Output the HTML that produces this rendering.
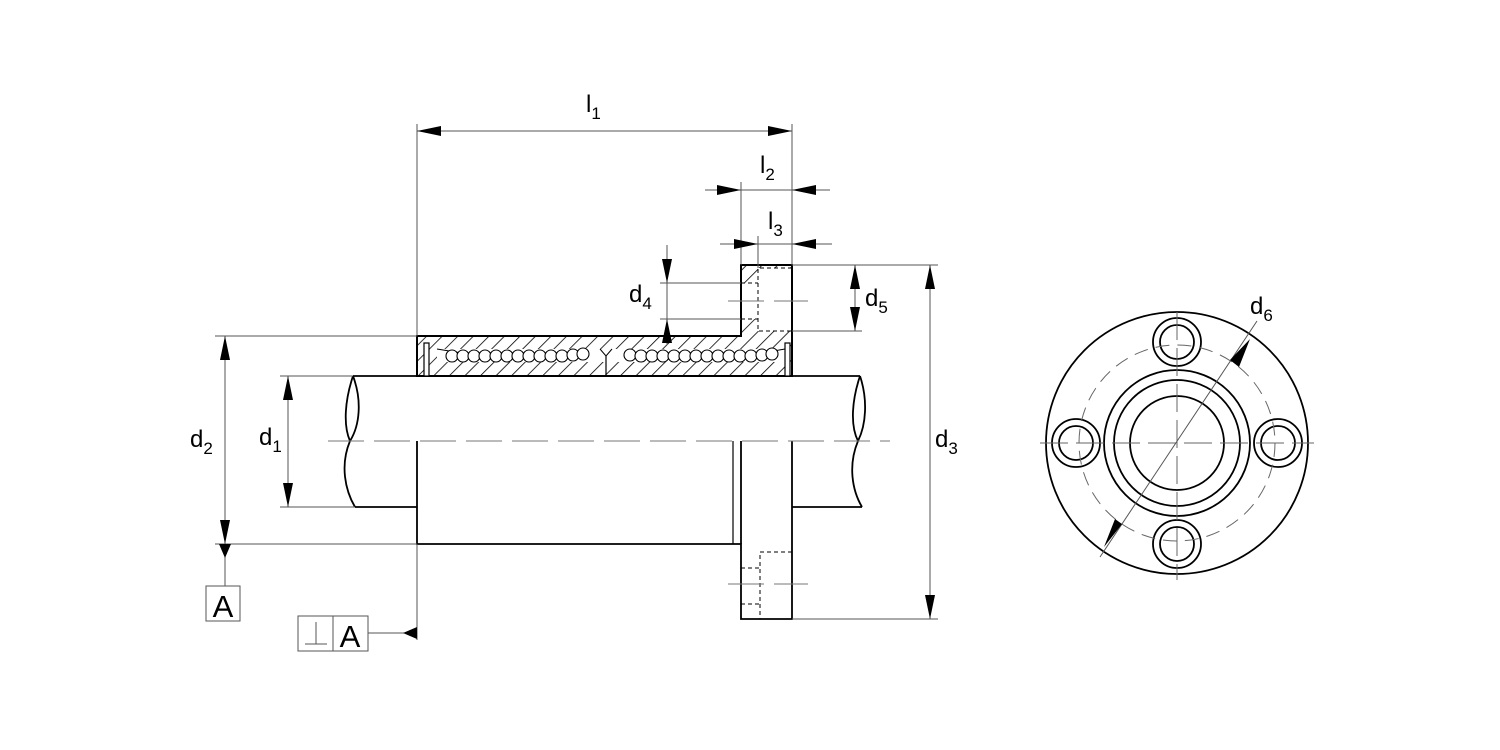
<!DOCTYPE html>
<html><head><meta charset="utf-8"><style>
html,body{margin:0;padding:0;background:#fff}
svg{display:block}
text{font-family:"Liberation Sans",sans-serif;fill:#000}
</style></head><body>
<svg width="1500" height="750" viewBox="0 0 1500 750" xmlns="http://www.w3.org/2000/svg">
<defs>
<pattern id="h" width="11" height="11" patternUnits="userSpaceOnUse" patternTransform="rotate(45)">
<line x1="0" y1="0" x2="0" y2="11" stroke="#000" stroke-width="1.6"/>
</pattern>
<marker id="a" viewBox="0 0 24 10" refX="24" refY="5" markerWidth="24" markerHeight="10" markerUnits="userSpaceOnUse" orient="auto-start-reverse"><path d="M0,0 L24,5 L0,10 Z" fill="#000"/></marker>
</defs>
<!-- hatched section -->
<path d="M417,336 H741 V265 H792 V376 H417 Z" fill="url(#h)" stroke="#000" stroke-width="2"/>
<path d="M437,349 H600 L606,355 L612,349 H785 V362 H437 Z" fill="#fff"/>
<path d="M437,349 L480,356 M600,349 L606,356 L612,349 M785,349 L745,356" stroke="#000" stroke-width="1" fill="none"/>
<g fill="#fff" stroke="#000" stroke-width="1.1">
<circle cx="452" cy="356" r="6"/><circle cx="463" cy="356" r="6"/><circle cx="474" cy="356" r="6"/><circle cx="485" cy="356" r="6"/><circle cx="496" cy="356" r="6"/><circle cx="507" cy="356" r="6"/><circle cx="518" cy="356" r="6"/><circle cx="529" cy="356" r="6"/><circle cx="540" cy="356" r="6"/><circle cx="551" cy="356" r="6"/><circle cx="562" cy="356" r="6"/><circle cx="573" cy="355" r="6"/><circle cx="583" cy="354" r="6"/>
<circle cx="630" cy="355" r="6"/><circle cx="641" cy="356" r="6"/><circle cx="652" cy="356" r="6"/><circle cx="663" cy="356" r="6"/><circle cx="674" cy="356" r="6"/><circle cx="685" cy="356" r="6"/><circle cx="696" cy="356" r="6"/><circle cx="707" cy="356" r="6"/><circle cx="718" cy="356" r="6"/><circle cx="729" cy="356" r="6"/><circle cx="740" cy="356" r="6"/><circle cx="751" cy="356" r="6"/><circle cx="762" cy="355" r="6"/><circle cx="772" cy="354" r="6"/>
</g>
<line x1="606" y1="356" x2="606" y2="376" stroke="#000" stroke-width="1.2"/>
<rect x="424" y="343" width="5" height="33" fill="#fff" stroke="#000" stroke-width="1.2"/>
<rect x="785" y="343" width="5" height="33" fill="#fff" stroke="#000" stroke-width="1.2"/>
<!-- counterbore top -->
<rect x="758" y="268" width="34" height="63" fill="#fff"/>
<rect x="741" y="283" width="17" height="36" fill="#fff"/>
<g stroke="#000" stroke-width="1" stroke-dasharray="4,3" fill="none">
<path d="M792,268 H758 V331 H792"/><line x1="741" y1="283" x2="758" y2="283"/><line x1="741" y1="319" x2="758" y2="319"/>
</g>
<path d="M741,265 V336 M792,265 V376" stroke="#000" stroke-width="2" fill="none"/>
<!-- shaft -->
<g stroke="#000" stroke-width="1.8" fill="none">
<path d="M353,376 H417 M792,376 H860"/>
<path d="M355,507 H417 M792,507 H862"/>
<path d="M353,376 C362,400 360,425 350,441 C340,465 345,490 355,507"/>
<path d="M353,376 C345,400 343,425 350,441"/>
<path d="M860,376 C868,400 866,425 858,441 C848,465 852,490 862,507"/>
<path d="M860,376 C852,400 850,425 858,441"/>
<path d="M417,441 V544 H741 V619 H792 V441"/>
<line x1="741" y1="441" x2="741" y2="544"/>
<line x1="733" y1="441" x2="733" y2="544" stroke-width="1.2"/>
</g>
<g stroke="#000" stroke-width="1" stroke-dasharray="4,3" fill="none">
<path d="M792,552 H760 V619"/><line x1="741" y1="568" x2="760" y2="568"/><line x1="741" y1="604" x2="760" y2="604"/>
</g>
<g stroke="#777" stroke-width="1" stroke-dasharray="36,10" fill="none">
<line x1="328" y1="441" x2="890" y2="441"/>
<line x1="728" y1="301" x2="808" y2="301"/>
<line x1="728" y1="584" x2="808" y2="584"/>
</g>
<g stroke="#555" stroke-width="1" fill="none">
<line x1="417" y1="124" x2="417" y2="336"/>
<line x1="417" y1="544" x2="417" y2="640"/>
<line x1="792" y1="124" x2="792" y2="265"/>
<line x1="741" y1="182" x2="741" y2="265"/>
<line x1="758" y1="236" x2="758" y2="268"/>
<line x1="417" y1="131" x2="792" y2="131" marker-start="url(#a)" marker-end="url(#a)"/>
<line x1="705" y1="190" x2="741" y2="190" marker-end="url(#a)"/>
<line x1="830" y1="190" x2="792" y2="190" marker-end="url(#a)"/>
<line x1="741" y1="190" x2="792" y2="190"/>
<line x1="720" y1="244" x2="758" y2="244" marker-end="url(#a)"/>
<line x1="832" y1="244" x2="792" y2="244" marker-end="url(#a)"/>
<line x1="758" y1="244" x2="792" y2="244"/>
<line x1="660" y1="283" x2="741" y2="283"/>
<line x1="660" y1="319" x2="741" y2="319"/>
<line x1="667" y1="245" x2="667" y2="283" marker-end="url(#a)"/>
<line x1="667" y1="345" x2="667" y2="319" marker-end="url(#a)"/>
<line x1="667" y1="283" x2="667" y2="319"/>
<line x1="792" y1="265" x2="938" y2="265"/>
<line x1="792" y1="331" x2="862" y2="331"/>
<line x1="792" y1="619" x2="938" y2="619"/>
<line x1="855" y1="298" x2="855" y2="265" marker-end="url(#a)"/>
<line x1="855" y1="298" x2="855" y2="331" marker-end="url(#a)"/>
<line x1="930" y1="265" x2="930" y2="619" marker-start="url(#a)" marker-end="url(#a)"/>
<line x1="215" y1="336" x2="417" y2="336"/>
<line x1="215" y1="544" x2="417" y2="544"/>
<line x1="280" y1="376" x2="353" y2="376"/>
<line x1="280" y1="507" x2="355" y2="507"/>
<line x1="225" y1="336" x2="225" y2="544" marker-start="url(#a)" marker-end="url(#a)"/>
<line x1="225" y1="544" x2="225" y2="586"/>
<line x1="288" y1="376" x2="288" y2="507" marker-start="url(#a)" marker-end="url(#a)"/>
<line x1="368" y1="633" x2="417" y2="633"/>
</g>
<path d="M225,558 L219,544 L231,544 Z" fill="#000"/>
<path d="M403,633 L417,627 L417,639 Z" fill="#000"/>
<g stroke="#555" stroke-width="1" fill="#fff">
<rect x="206" y="586" width="34" height="35"/>
<rect x="298" y="616" width="35" height="35"/>
<rect x="333" y="616" width="35" height="35"/>
</g>
<path d="M305,644 H327 M316,644 V622" stroke="#555" stroke-width="1"/>
<text x="223" y="617" font-size="31" text-anchor="middle">A</text>
<text x="350" y="647" font-size="31" text-anchor="middle">A</text>
<g font-size="24">
<text x="586" y="112">l<tspan font-size="17" dy="7">1</tspan></text>
<text x="760" y="173">l<tspan font-size="17" dy="7">2</tspan></text>
<text x="768" y="229">l<tspan font-size="17" dy="7">3</tspan></text>
<text x="629" y="302">d<tspan font-size="17" dy="7">4</tspan></text>
<text x="865" y="306">d<tspan font-size="17" dy="7">5</tspan></text>
<text x="935" y="447">d<tspan font-size="17" dy="7">3</tspan></text>
<text x="190" y="447">d<tspan font-size="17" dy="7">2</tspan></text>
<text x="259" y="445">d<tspan font-size="17" dy="7">1</tspan></text>
<text x="1250" y="314">d<tspan font-size="17" dy="7">6</tspan></text>
</g>
<g fill="none" stroke="#000" stroke-width="1.8">
<circle cx="1177" cy="443" r="131"/>
<circle cx="1177" cy="443" r="73"/>
<circle cx="1177" cy="443" r="63"/>
<circle cx="1177" cy="443" r="47"/>
<circle cx="1177" cy="342" r="24"/><circle cx="1177" cy="342" r="17"/>
<circle cx="1177" cy="544" r="24"/><circle cx="1177" cy="544" r="17"/>
<circle cx="1076" cy="443" r="24"/><circle cx="1076" cy="443" r="17"/>
<circle cx="1278" cy="443" r="24"/><circle cx="1278" cy="443" r="17"/>
</g>
<circle cx="1177" cy="443" r="98" fill="none" stroke="#666" stroke-width="1" stroke-dasharray="14,8"/>
<g stroke="#666" stroke-width="1" stroke-dasharray="28,8">
<line x1="1040" y1="443" x2="1314" y2="443"/>
<line x1="1177" y1="312" x2="1177" y2="580"/>
</g>
<line x1="1100" y1="557" x2="1257" y2="321" stroke="#555" stroke-width="1"/>
<path d="M1230,360 L1250,339 L1239,367 Z M1122,524 L1104,547 L1115,519 Z" fill="#000"/>
</svg>
</body></html>
